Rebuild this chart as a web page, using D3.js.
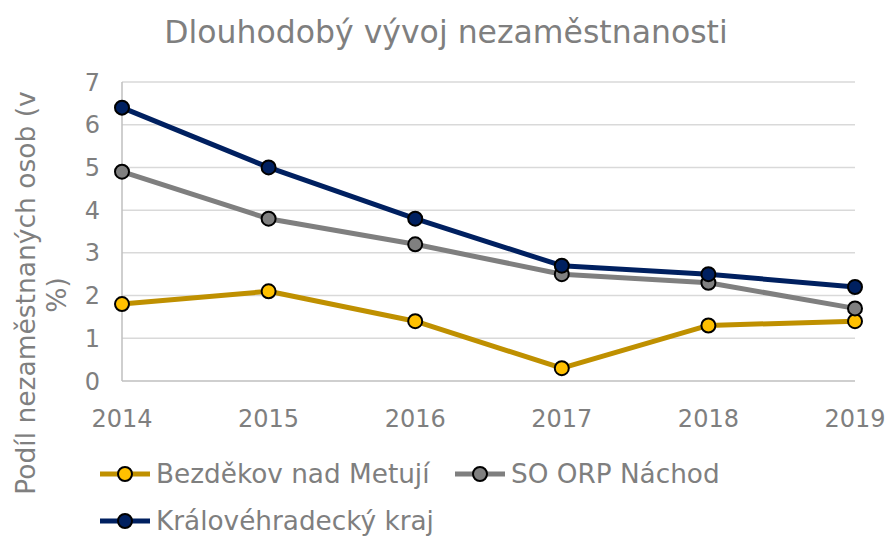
<!DOCTYPE html>
<html lang="cs">
<head>
<meta charset="utf-8">
<title>Dlouhodobý vývoj nezaměstnanosti</title>
<script src="https://cdn.jsdelivr.net/npm/d3@7"></script>
<style>
  body { margin: 0; background: #fff; }
  text { font-family: "DejaVu Sans", Verdana, sans-serif; fill: #7f7f7f; }
  .grid line { stroke: #d9d9d9; stroke-width: 1.5px; }
</style>
</head>
<body>
<div id="chart"></div>
<script>
var years = ["2014", "2015", "2016", "2017", "2018", "2019"];
var bezdekov = [1.8, 2.1, 1.4, 0.3, 1.3, 1.4];
var soOrp = [4.9, 3.8, 3.2, 2.5, 2.3, 1.7];
var kraj = [6.4, 5.0, 3.8, 2.7, 2.5, 2.2];
var yTicks = [0, 1, 2, 3, 4, 5, 6, 7];

var series = [
  { name: "Bezděkov nad Metují", values: bezdekov, line: "#bf9000", fill: "#ffc000" },
  { name: "SO ORP Náchod", values: soOrp, line: "#7f7f7f", fill: "#808080" },
  { name: "Královéhradecký kraj", values: kraj, line: "#002060", fill: "#002060" }
];

var width = 886, height = 536;
var plotL = 122, plotR = 855, plotT = 82, plotB = 381;

var svg = d3.select("#chart").append("svg")
    .attr("width", width)
    .attr("height", height);

var x = d3.scalePoint().domain(years).range([plotL, plotR]);
var y = d3.scaleLinear().domain([0, 7]).range([plotB, plotT]);

// gridlines
svg.append("g").attr("class", "grid")
  .selectAll("line")
  .data(yTicks.filter(function(d) { return d > 0; }))
  .enter().append("line")
    .attr("x1", plotL).attr("x2", plotR)
    .attr("y1", function(d) { return y(d); })
    .attr("y2", function(d) { return y(d); });

// axes lines
svg.append("line")
  .attr("x1", plotL).attr("x2", plotL).attr("y1", plotT).attr("y2", plotB)
  .attr("stroke", "#bfbfbf").attr("stroke-width", 1.5);
svg.append("line")
  .attr("x1", plotL).attr("x2", plotR).attr("y1", plotB).attr("y2", plotB)
  .attr("stroke", "#bfbfbf").attr("stroke-width", 1.5);

// y tick labels
svg.append("g").selectAll("text")
  .data(yTicks)
  .enter().append("text")
    .attr("x", 100)
    .attr("y", function(d) { return y(d); })
    .attr("dy", "0.36em")
    .attr("text-anchor", "end")
    .style("font-size", "24px")
    .text(function(d) { return d; });

// x tick labels
svg.append("g").selectAll("text")
  .data(years)
  .enter().append("text")
    .attr("x", function(d) { return x(d); })
    .attr("y", 427)
    .attr("text-anchor", "middle")
    .style("font-size", "24px")
    .text(function(d) { return d; });

// title
svg.append("text")
  .attr("x", 446).attr("y", 43)
  .attr("text-anchor", "middle")
  .style("font-size", "31.5px")
  .text("Dlouhodobý vývoj nezaměstnanosti");

// y axis title (two lines, Excel-style wrap)
svg.append("text")
  .attr("transform", "translate(35,293) rotate(-90)")
  .attr("text-anchor", "middle")
  .style("font-size", "26.5px")
  .text("Podíl nezaměstnaných osob (v");
svg.append("text")
  .attr("transform", "translate(66,295) rotate(-90)")
  .attr("text-anchor", "middle")
  .style("font-size", "26.5px")
  .text("%)");

// lines and markers
var line = d3.line()
  .x(function(d, i) { return x(years[i]); })
  .y(function(d) { return y(d); });

series.forEach(function(s) {
  svg.append("path")
    .datum(s.values)
    .attr("d", line)
    .attr("fill", "none")
    .attr("stroke", s.line)
    .attr("stroke-width", 5)
    .attr("stroke-linejoin", "round");
  svg.append("g").selectAll("circle")
    .data(s.values)
    .enter().append("circle")
      .attr("cx", function(d, i) { return x(years[i]); })
      .attr("cy", function(d) { return y(d); })
      .attr("r", 7)
      .attr("fill", s.fill)
      .attr("stroke", "#000")
      .attr("stroke-width", 2);
});

// legend
var legendPos = [[100, 474], [455, 474], [100, 521]];
series.forEach(function(s, i) {
  var g = svg.append("g").attr("transform", "translate(" + legendPos[i][0] + "," + legendPos[i][1] + ")");
  g.append("line").attr("x1", 0).attr("x2", 50).attr("y1", 0).attr("y2", 0)
    .attr("stroke", s.line).attr("stroke-width", 5);
  g.append("circle").attr("cx", 25).attr("cy", 0).attr("r", 7)
    .attr("fill", s.fill).attr("stroke", "#000").attr("stroke-width", 2);
  g.append("text").attr("x", 56).attr("y", 0).attr("dy", "0.36em")
    .style("font-size", "26.3px").text(s.name);
});
</script>
</body>
</html>
